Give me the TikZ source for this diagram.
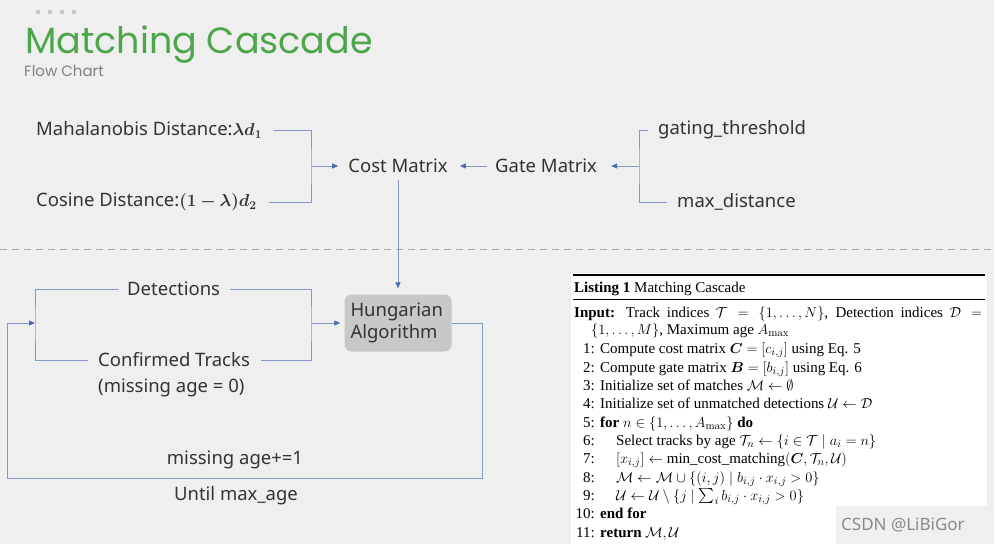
\documentclass[tikz,border=0pt]{standalone}
\usepackage{amsmath,amssymb,bm}
\usepackage[no-math]{fontspec}
\setmainfont{Noto Sans}
\newfontfamily\titlefont{Poppins}
\newfontfamily\lstfont{Liberation Serif}
\usetikzlibrary{arrows.meta}
\definecolor{bg}{HTML}{EFEFEF}
\definecolor{ttl}{HTML}{4EA64A}
\definecolor{txt}{HTML}{333333}
\definecolor{ln}{HTML}{8299C8}
\definecolor{arr}{HTML}{4A6CB0}
\definecolor{hboxc}{HTML}{C8C8C8}
\definecolor{dashc}{HTML}{A8A8A8}
\definecolor{wmc}{HTML}{8A8A8A}
\begin{document}
\begin{tikzpicture}[x=1pt,y=-1pt,
  lbl/.style={font=\fontsize{18.5}{22}\selectfont, text=txt, inner sep=0pt},
  conn/.style={draw=ln, line width=0.8pt},
  arrow/.style={conn, -{Triangle[length=6pt,width=5pt,fill=arr,color=arr]}},
  hung/.style={lbl, fill=hboxc, rounded corners=7pt, text width=95pt, align=left, inner xsep=6pt, minimum height=57pt},
  lst/.style={font=\lstfont\fontsize{15}{18}\selectfont, text=black, inner sep=0pt},
  lnum/.style={lst, anchor=base east},
  ltxt/.style={lst, anchor=base west}
]
\fill[bg] (0,0) rectangle (994,544);
\useasboundingbox (0,0) rectangle (994,544);
% header
\foreach \i in {0,1,2,3} \fill[gray!45] (38+12*\i,12) circle (2.3);
\node[anchor=base west, font=\titlefont\fontsize{36.5}{40}\selectfont, text=ttl, inner sep=0pt] (title) at (25,53) {Matching Cascade};
\node[anchor=base west, font=\titlefont\fontsize{15}{18}\selectfont, text=gray, inner sep=0pt] (sub) at (24,76) {Flow Chart};
% top part
\node[lbl,anchor=west] (maha) at (36,130) {Mahalanobis Distance:$\bm{\lambda d_1}$};
\node[lbl,anchor=west] (cos) at (36,202) {Cosine Distance:$\bm{(1-\lambda)d_2}$};
\node[lbl] (cost) at (398,166) {Cost Matrix};
\node[lbl,anchor=west] (gate) at (495,166) {Gate Matrix};
\node[lbl,anchor=west] (gth) at (658,130) {gating\_threshold};
\node[lbl,anchor=west] (maxd) at (677,202) {max\_distance};
\coordinate (jL) at (311,166);
\coordinate (jR) at (639,166);
\draw[conn] ([xshift=12pt]maha.east) -| (jL) |- ([xshift=12pt]cos.east);
\draw[arrow] (jL) -- ([xshift=-10pt]cost.west);
\draw[arrow] ([xshift=-8pt]gate.west) -- ([xshift=12pt]cost.east);
\draw[conn] ([xshift=-10pt]gth.west) -| (jR) |- ([xshift=-10pt]maxd.west);
\draw[arrow] (jR) -- ([xshift=14pt]gate.east);
% divider
\draw[dashc, line width=1pt, dash pattern=on 7pt off 5pt] (0,249) -- (994,249);
% bottom part
\node[hung] (hung) at (398,323) {Hungarian\\Algorithm};
\draw[arrow] ([yshift=-7pt]cost.south) -- ([yshift=6pt]hung.north);
\node[lbl,anchor=west] (det) at (127,289) {Detections};
\node[lbl,anchor=west] (conf) at (98,360) {Confirmed Tracks};
\node[lbl,anchor=west] (miss0) at (98,388) {(missing age = 0)};
\node[lbl] (inc) at (235,460) {missing age+=1};
\node[lbl] (until) at (236,496) {Until max\_age};
\coordinate (dl) at (35,323);
\coordinate (dr) at (311,323);
\coordinate (lp1) at (482,478);
\coordinate (lp2) at (7,478);
\draw[conn] ([xshift=-9pt]det.west) -| (dl) |- ([xshift=-10pt]conf.west);
\draw[conn] ([xshift=10pt]det.east) -| (dr) |- ([xshift=11pt]conf.east);
\draw[arrow] (dr) -- ([xshift=-4pt]hung.west);
\draw[arrow] (hung.east) -| (lp1) -- (lp2) |- (dl);
% listing
\fill[white] (571,273) rectangle (987,544);
\draw[black, line width=1.6pt] (573,275) -- (985,275);
\draw[black, line width=0.9pt] (573,299) -- (985,299);
\node[ltxt] (lh) at (574,292) {\textbf{Listing 1} Matching Cascade};
\node[ltxt] (lin) at (574,317) {\makebox[408pt][s]{\textbf{Input:} Track indices $\mathcal{T}=\{1,\dots,N\}$, Detection indices $\mathcal{D}=$}};
\node[ltxt] (lin2) at (591,334) {$\{1,\dots,M\}$, Maximum age $A_{\max}$};
\node[lnum] (n1) at (595,353) {1:};
\node[ltxt] (t1) at (600,353) {Compute cost matrix $\bm{C}=[c_{i,j}]$ using Eq. 5};
\node[lnum] (n2) at (595,372) {2:};
\node[ltxt] (t2) at (600,372) {Compute gate matrix $\bm{B}=[b_{i,j}]$ using Eq. 6};
\node[lnum] (n3) at (595,390) {3:};
\node[ltxt] (t3) at (600,390) {Initialize set of matches $\mathcal{M}\leftarrow\emptyset$};
\node[lnum] (n4) at (595,408) {4:};
\node[ltxt] (t4) at (600,408) {Initialize set of unmatched detections $\mathcal{U}\leftarrow\mathcal{D}$};
\node[lnum] (n5) at (595,427) {5:};
\node[ltxt] (t5) at (600,427) {\textbf{for} $n\in\{1,\dots,A_{\max}\}$ \textbf{do}};
\node[lnum] (n6) at (595,445) {6:};
\node[ltxt] (t6) at (616,445) {Select tracks by age $\mathcal{T}_n\leftarrow\{i\in\mathcal{T}\mid a_i=n\}$};
\node[lnum] (n7) at (595,463) {7:};
\node[ltxt] (t7) at (616,463) {$[x_{i,j}]\leftarrow\text{min\_cost\_matching}(\bm{C},\mathcal{T}_n,\mathcal{U})$};
\node[lnum] (n8) at (595,482) {8:};
\node[ltxt] (t8) at (616,482) {$\mathcal{M}\leftarrow\mathcal{M}\cup\{(i,j)\mid b_{i,j}\cdot x_{i,j}>0\}$};
\node[lnum] (n9) at (595,500) {9:};
\node[ltxt] (t9) at (616,500) {$\mathcal{U}\leftarrow\mathcal{U}\setminus\{j\mid \textstyle\sum_i b_{i,j}\cdot x_{i,j}>0\}$};
\node[lnum] (n10) at (595,518) {10:};
\node[ltxt] (t10) at (600,518) {\textbf{end for}};
\node[lnum] (n11) at (595,537) {11:};
\node[ltxt] (t11) at (600,537) {\textbf{return} $\mathcal{M},\mathcal{U}$};
% watermark
\fill[bg] (836,506) rectangle (994,544);
\node[anchor=west, font=\fontsize{17}{20}\selectfont, text=wmc, inner sep=0pt] (wm) at (841,525) {CSDN @LiBiGor};
\end{tikzpicture}
\end{document}
